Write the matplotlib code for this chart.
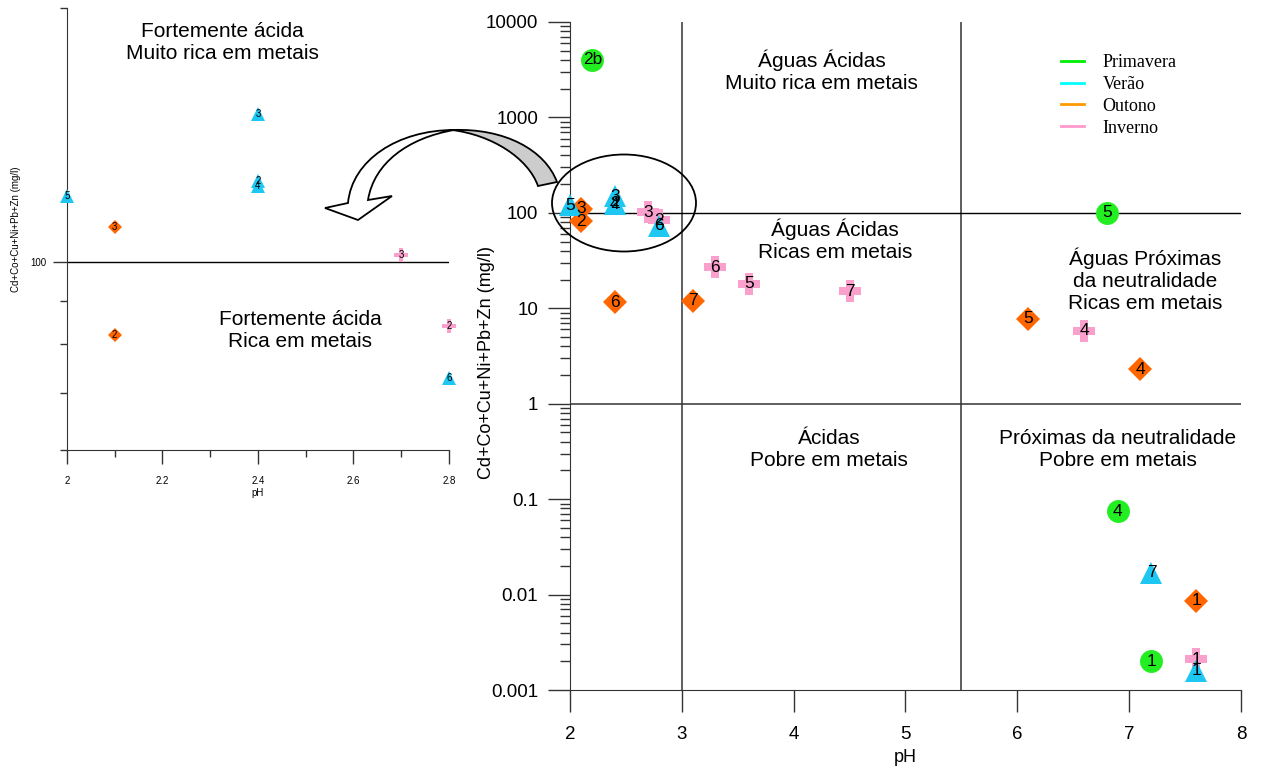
import numpy as np
import matplotlib
matplotlib.use("Agg")
import matplotlib.pyplot as plt
from matplotlib.patches import Ellipse, PathPatch
from matplotlib.path import Path
from matplotlib.lines import Line2D
from matplotlib.ticker import FixedLocator, NullFormatter

plt.rcParams['font.family'] = ['Liberation Sans', 'DejaVu Sans']

# =========================================================
# DATA  (pH, Cd+Co+Cu+Ni+Pb+Zn in mg/l, sample number)
# =========================================================

prim_ph = [2.2, 6.8, 6.9, 7.2]
prim_val = [4000, 100, 0.075, 0.002]
prim_lab = ["2b", "5", "4", "1"]

ver_ph = [2.0, 2.4, 2.4, 2.4, 2.8, 7.2, 7.6]
ver_val = [120, 150, 125, 123, 73, 0.017, 0.0016]
ver_lab = ["5", "3", "2", "4", "6", "7", "1"]

out_ph = [2.1, 2.1, 2.4, 3.1, 6.1, 7.1, 7.6]
out_val = [110, 82, 11.5, 12, 7.8, 2.3, 0.0086]
out_lab = ["3", "2", "6", "7", "5", "4", "1"]

inv_ph = [2.7, 2.8, 3.3, 3.6, 4.5, 6.6, 7.6]
inv_val = [102, 84, 27, 18, 15, 5.8, 0.0021]
inv_lab = ["3", "2", "6", "5", "7", "4", "1"]

seasons = ["Primavera", "Verão", "Outono", "Inverno"]
legend_colors = ["#00ee00", "#00ffff", "#ff9900", "#ff99cc"]

y_ticks = [0.001, 0.01, 0.1, 1, 10, 100, 1000, 10000]
y_tick_labels = ["0.001", "0.01", "0.1", "1", "10", "100", "1000", "10000"]
x_ticks = [2, 3, 4, 5, 6, 7, 8]

inset_x_major = [2.0, 2.2, 2.4, 2.6, 2.8]
inset_x_minor = [2.1, 2.3, 2.5, 2.7]
inset_y_minor = [60, 70, 80, 90, 200]

# marker style per series: (ph, val, labels, marker, colour, main size, inset size)
series = [
    (prim_ph, prim_val, prim_lab, "o", "#22ee22", 16.5, 10),
    (inv_ph, inv_val, inv_lab, "P", "#f9a0cc", 16.5, 10),
    (out_ph, out_val, out_lab, "D", "#ff6600", 11.8, 7),
    (ver_ph, ver_val, ver_lab, "^", "#1ec6f2", 16.5, 10),
]

LINE_C = "#333333"
TXT = 15

fig = plt.figure(figsize=(12.61, 7.69), dpi=100)

# =========================================================
# MAIN PLOT
# =========================================================

ax = fig.add_axes([0.452, 0.1027, 0.5321, 0.8687])
ax.set_yscale("log")
ax.set_xlim(2, 8)
ax.set_ylim(0.001, 10000)

for s in ["top", "right"]:
    ax.spines[s].set_visible(False)
for s in ["left", "bottom"]:
    ax.spines[s].set_color(LINE_C)

# class boundaries
ax.axvline(3, color=LINE_C, lw=1.1, zorder=1)
ax.axvline(5.5, color=LINE_C, lw=1.1, zorder=1)
ax.axhline(100, color="black", lw=1.0, zorder=1)
ax.axhline(1, color=LINE_C, lw=1.1, zorder=1)

for ph, val, lab, mk, col, ms, _ in series:
    ax.plot(ph, val, ls="none", marker=mk, color=col, markersize=ms,
            markeredgewidth=0, zorder=3, clip_on=False)
for ph, val, lab, mk, col, ms, _ in series:
    for x, y, t in zip(ph, val, lab):
        ax.text(x, y, t, ha="center", va="center", fontsize=12.5, zorder=4)

ax.yaxis.set_major_locator(FixedLocator(y_ticks))
ax.set_yticklabels(y_tick_labels)
minor = [m * 10.0 ** e for e in range(-3, 4) for m in range(2, 10)]
ax.yaxis.set_minor_locator(FixedLocator(minor))
ax.yaxis.set_minor_formatter(NullFormatter())
ax.set_xticks(x_ticks)
ax.set_xticklabels([str(v) for v in x_ticks])

ax.tick_params(axis="both", which="major", length=16, width=1, color=LINE_C,
               labelsize=13.5)
ax.tick_params(axis="y", which="major", pad=7)
ax.tick_params(axis="x", which="major", pad=10)
ax.tick_params(axis="y", which="minor", length=7, width=1, color=LINE_C)

ax.set_xlabel("pH", fontsize=13)
ax.xaxis.set_label_coords(0.5, -0.088)
ax.set_ylabel("Cd+Co+Cu+Ni+Pb+Zn (mg/l)", fontsize=13)
ax.yaxis.set_label_coords(-0.112, 0.49)

ax.text(4.25, 3060, "Águas Ácidas\nMuito rica em metais", ha="center", va="center",
        fontsize=TXT)
ax.text(4.37, 51.5, "Águas Ácidas\nRicas em metais", ha="center", va="center",
        fontsize=TXT)
ax.text(7.14, 19.6, "Águas Próximas\nda neutralidade\nRicas em metais",
        ha="center", va="center", fontsize=TXT)
ax.text(4.32, 0.33, "Ácidas\nPobre em metais", ha="center", va="center",
        fontsize=TXT)
ax.text(6.90, 0.33, "Próximas da neutralidade\nPobre em metais", ha="center",
        va="center", fontsize=TXT)

handles = [Line2D([0], [0], color=c, lw=2) for c in legend_colors]
fig.legend(handles, seasons, loc="upper left",
           bbox_to_anchor=(1061 / 1261, 1 - 54 / 769), frameon=False,
           prop={"family": "Liberation Serif", "size": 13}, handlelength=1.3,
           handletextpad=1.0, labelspacing=0.27, borderpad=0, borderaxespad=0)

# =========================================================
# ZOOMED INSET (pH 2 - 2.8)
# =========================================================

ax2 = fig.add_axes([0.0531, 0.4148, 0.3029, 0.5748])
ax2.set_yscale("log")
ax2.set_xlim(2, 2.8)
ax2.set_ylim(60, 200)
for s in ["top", "right"]:
    ax2.spines[s].set_visible(False)
for s in ["left", "bottom"]:
    ax2.spines[s].set_color(LINE_C)

ax2.plot([2, 2.8], [100, 100], color="black", lw=1.0, zorder=1)

for ph, val, lab, mk, col, _, ms in series:
    ph = np.array(ph)
    val = np.array(val)
    keep = (ph >= 1.99) & (ph <= 2.81) & (val >= 60) & (val <= 200)
    ax2.plot(ph[keep], val[keep], ls="none", marker=mk, color=col,
             markersize=ms, markeredgewidth=0, zorder=3, clip_on=False)
for ph, val, lab, mk, col, _, ms in series:
    for x, y, t in zip(ph, val, lab):
        if 1.99 <= x <= 2.81 and 60 <= y <= 200:
            ax2.text(x, y, t, ha="center", va="center", fontsize=7, zorder=4)

ax2.yaxis.set_major_locator(FixedLocator([100]))
ax2.set_yticklabels(["100"])
ax2.yaxis.set_minor_locator(FixedLocator(inset_y_minor))
ax2.yaxis.set_minor_formatter(NullFormatter())
ax2.xaxis.set_major_locator(FixedLocator(inset_x_major))
ax2.set_xticklabels([f"{v:g}" for v in inset_x_major])
ax2.xaxis.set_minor_locator(FixedLocator(inset_x_minor))
ax2.tick_params(axis="both", which="major", length=10, width=1, color=LINE_C,
                labelsize=7)
ax2.tick_params(axis="x", which="major", pad=9)
ax2.tick_params(axis="y", which="major", pad=5)
ax2.tick_params(axis="both", which="minor", length=5, width=1, color=LINE_C)
ax2.set_xlabel("pH", fontsize=7, labelpad=1)
ax2.set_ylabel("Cd+Co+Cu+Ni+Pb+Zn (mg/l)", fontsize=7)
ax2.yaxis.set_label_coords(-0.12, 0.5)

ax2.text(2.325, 182, "Fortemente ácida\nMuito rica em metais", ha="center",
         va="center", fontsize=TXT)
ax2.text(2.488, 83.1, "Fortemente ácida\nRica em metais", ha="center",
         va="center", fontsize=TXT)

# =========================================================
# ELLIPSE + CURVED ARROW (drawn in pixel space)
# =========================================================

ov = fig.add_axes([0, 0, 1, 1], zorder=10)
ov.set_xlim(0, 1261)
ov.set_ylim(769, 0)
ov.axis("off")
ov.patch.set_alpha(0)

ov.add_patch(Ellipse((624, 203), 144, 97, fill=False, ec="black", lw=1.3))

gray_verts = [(557, 182), (545, 150), (505, 128), (452, 130),
              (492, 135), (528, 158), (538, 186), (557, 182)]
gray_codes = [Path.MOVETO, Path.CURVE4, Path.CURVE4, Path.CURVE4,
              Path.CURVE4, Path.CURVE4, Path.CURVE4, Path.CLOSEPOLY]
ov.add_patch(PathPatch(Path(gray_verts, gray_codes), fc="#cccccc", ec="black",
                       lw=1.3))

white_verts = [(454, 130), (398, 130), (352, 160), (348, 203),
               (325, 208), (358, 220), (392, 196), (368, 200),
               (374, 163), (408, 138), (454, 130), (454, 130)]
white_codes = [Path.MOVETO, Path.CURVE4, Path.CURVE4, Path.CURVE4,
               Path.LINETO, Path.LINETO, Path.LINETO, Path.LINETO,
               Path.CURVE4, Path.CURVE4, Path.CURVE4, Path.CLOSEPOLY]
ov.add_patch(PathPatch(Path(white_verts, white_codes), fc="white", ec="black",
                       lw=1.3))

fig.savefig("out.png", dpi=100)
